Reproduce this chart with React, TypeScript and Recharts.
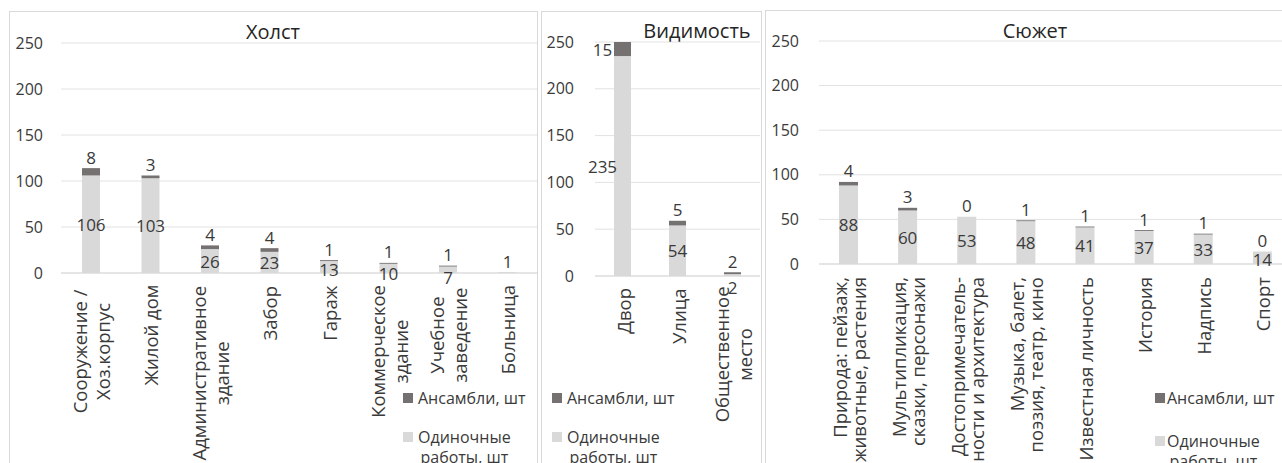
import { BarChart, Bar, XAxis, YAxis, CartesianGrid, LabelList } from 'recharts';

const yTicks = [0, 50, 100, 150, 200, 250];

// Холст
const canvasCategories = [
  'Сооружение /\nХоз.корпус',
  'Жилой дом',
  'Административное\nздание',
  'Забор',
  'Гараж',
  'Коммерческое\nздание',
  'Учебное\nзаведение',
  'Больница',
];
const canvasSingle = [106, 103, 26, 23, 13, 10, 7, 1];
const canvasEnsemble = [8, 3, 4, 4, 1, 1, 1, null];

// Видимость
const visibilityCategories = ['Двор', 'Улица', 'Общественное\nместо'];
const visibilitySingle = [235, 54, 2];
const visibilityEnsemble = [15, 5, 2];

// Сюжет
const plotCategories = [
  'Природа: пейзаж,\nживотные, растения',
  'Мультипликация,\nсказки, персонажи',
  'Достопримечатель-\nности и архитектура',
  'Музыка, балет,\nпоэзия, театр, кино',
  'Известная личность',
  'История',
  'Надпись',
  'Спорт',
];
const plotSingle = [88, 60, 53, 48, 41, 37, 33, 14];
const plotEnsemble = [4, 3, 0, 1, 1, 1, 1, 0];

const SINGLE_NAME = 'Одиночные работы, шт';
const ENSEMBLE_NAME = 'Ансамбли, шт';

const SINGLE_COLOR = '#d9d9d9';
const ENSEMBLE_COLOR = '#767171';
const TEXT = '#3a3a3a';
const GRID = '#e2e2e2';
const BORDER = '#d9d9d9';
const FONT = '"Open Sans", sans-serif';
const CAT_FONT = 18.5;
const CHAR_W = 10.9;

function CategoryTick(props: any) {
  const { x, y, payload, centered, lineH } = props;
  const lines = String(payload.value).split('\n');
  const n = lines.length;
  const longest = Math.max(...lines.map((l) => l.length));
  const mid = 13 + (longest * CHAR_W) / 2;
  return (
    <g transform={`translate(${x},${y})`}>
      <text transform="rotate(-90)" fontSize={CAT_FONT} fill={TEXT} fontFamily={FONT} dominantBaseline="central">
        {lines.map((l, i) => (
          <tspan key={i} x={centered ? -mid : -13} y={(i - (n - 1) / 2) * lineH} textAnchor={centered ? 'middle' : 'end'}>
            {l}
          </tspan>
        ))}
      </text>
    </g>
  );
}

function box(p: any) {
  const vb = p.viewBox ?? {};
  return { x: vb.x ?? p.x, y: vb.y ?? p.y, w: vb.width ?? p.width, h: vb.height ?? p.height };
}

// both labels are drawn from the single-works bar, since zero-height ensemble bars get no label slot
function makeLabels(single: (number | null)[], ensemble: (number | null)[], firstDx: number) {
  return (p: any) => {
    const i = p.index;
    const v = single[i];
    const e = ensemble[i];
    if (v == null) return null;
    const { x, y, w, h } = box(p);
    const cx = x + w / 2 + (i === 0 ? firstDx : 0);
    const ppu = v ? h / v : 0;
    let cy = y + h / 2;
    if (e == null) cy = y - 11;
    else if (h < 14) cy += 14 - h;
    let ey = 0;
    if (e != null) {
      const top = y - e * ppu;
      ey = top - 11;
      if (ey < 38) ey = top + (e * ppu) / 2;
    }
    return (
      <g fontSize={17} fill={TEXT} fontFamily={FONT}>
        <text x={cx} y={cy} textAnchor="middle" dominantBaseline="central">
          {v}
        </text>
        {e != null && (
          <text x={cx} y={ey} textAnchor="middle" dominantBaseline="central">
            {e}
          </text>
        )}
      </g>
    );
  };
}

function Panel(props: any) {
  const { title, categories, single, ensemble, border, chart, titlePos, legend, centered, firstDx, lineH } = props;
  const data = categories.map((c: string, i: number) => ({ name: c, single: single[i], ensemble: ensemble[i] ?? 0 }));
  return (
    <>
      <div
        style={{
          position: 'absolute',
          left: border.left,
          top: border.top,
          width: border.width,
          height: border.height,
          border: `1px solid ${BORDER}`,
          boxSizing: 'border-box',
        }}
      />
      <div style={{ position: 'absolute', left: chart.left, top: chart.top }}>
        <BarChart
          width={chart.width}
          height={chart.height}
          data={data}
          margin={{ top: chart.marginTop, right: chart.marginRight, left: 0, bottom: 0 }}
        >
          <CartesianGrid vertical={false} stroke={GRID} />
          <XAxis
            dataKey="name"
            interval={0}
            height={chart.xHeight}
            tickSize={0}
            tickMargin={0}
            axisLine={{ stroke: BORDER }}
            tickLine={false}
            tick={<CategoryTick centered={centered} lineH={lineH} />}
          />
          <YAxis
            domain={[0, 250]}
            ticks={yTicks}
            width={chart.yWidth}
            tickSize={0}
            tickMargin={chart.tickMargin}
            axisLine={false}
            tickLine={false}
            tick={{ fontSize: 16, fill: TEXT, fontFamily: FONT }}
          />
          <Bar dataKey="single" name={SINGLE_NAME} stackId="a" fill={SINGLE_COLOR} barSize={chart.barSize} isAnimationActive={false}>
            <LabelList dataKey="single" content={makeLabels(single, ensemble, firstDx)} />
          </Bar>
          <Bar dataKey="ensemble" name={ENSEMBLE_NAME} stackId="a" fill={ENSEMBLE_COLOR} barSize={chart.barSize} isAnimationActive={false} />
        </BarChart>
      </div>
      <div
        style={{
          position: 'absolute',
          left: titlePos.x - 100,
          width: 200,
          top: titlePos.y - 14,
          lineHeight: '28px',
          textAlign: 'center',
          fontSize: 20,
          color: '#262626',
          fontFamily: FONT,
        }}
      >
        {title}
      </div>
      <div style={{ position: 'absolute', left: legend.markerX, top: legend.y1 - 5, width: 10, height: 10, background: ENSEMBLE_COLOR }} />
      <div
        style={{
          position: 'absolute',
          left: legend.textX,
          top: legend.y1 - 11,
          lineHeight: '22px',
          fontSize: 16,
          color: TEXT,
          fontFamily: FONT,
          whiteSpace: 'nowrap',
        }}
      >
        Ансамбли, шт
      </div>
      <div style={{ position: 'absolute', left: legend.markerX, top: legend.y2 - 5, width: 10, height: 10, background: SINGLE_COLOR }} />
      <div
        style={{
          position: 'absolute',
          left: legend.textX,
          top: legend.y2 - 10,
          lineHeight: '20px',
          fontSize: 16,
          color: TEXT,
          fontFamily: FONT,
          textAlign: 'center',
          whiteSpace: 'nowrap',
        }}
      >
        Одиночные
        <br />
        работы, шт
      </div>
    </>
  );
}

export default function App() {
  return (
    <div style={{ position: 'absolute', left: 0, top: 0, width: 1282, height: 463, overflow: 'hidden', background: '#fff' }}>
      <Panel
        title="Холст"
        categories={canvasCategories}
        single={canvasSingle}
        ensemble={canvasEnsemble}
        border={{ left: 9, top: 11, width: 529, height: 470 }}
        chart={{ left: 9, top: 11, width: 528, height: 452, marginTop: 32, marginRight: 0, yWidth: 52, xHeight: 190, barSize: 18, tickMargin: 18 }}
        titlePos={{ x: 273, y: 32 }}
        legend={{ markerX: 403, textX: 418, y1: 398, y2: 437 }}
        centered
        firstDx={0}
        lineH={23}
      />
      <Panel
        title="Видимость"
        categories={visibilityCategories}
        single={visibilitySingle}
        ensemble={visibilityEnsemble}
        border={{ left: 541, top: 11, width: 221, height: 470 }}
        chart={{ left: 541, top: 11, width: 219, height: 452, marginTop: 31, marginRight: 0, yWidth: 54, xHeight: 187, barSize: 17, tickMargin: 21 }}
        titlePos={{ x: 697, y: 31 }}
        legend={{ markerX: 552, textX: 567, y1: 398, y2: 437 }}
        centered
        firstDx={-20}
        lineH={23}
      />
      <Panel
        title="Сюжет"
        categories={plotCategories}
        single={plotSingle}
        ensemble={plotEnsemble}
        border={{ left: 765, top: 10, width: 540, height: 470 }}
        chart={{ left: 765, top: 10, width: 527, height: 453, marginTop: 31, marginRight: 0, yWidth: 54, xHeight: 199, barSize: 19, tickMargin: 20 }}
        titlePos={{ x: 1035, y: 31 }}
        legend={{ markerX: 1155, textX: 1167, y1: 398, y2: 441 }}
        centered={false}
        firstDx={0}
        lineH={19}
      />
    </div>
  );
}
